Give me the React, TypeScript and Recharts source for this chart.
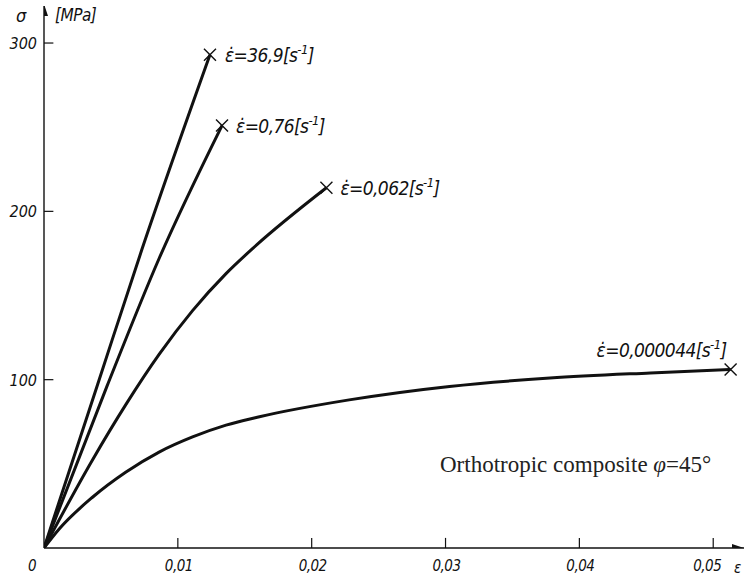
import { ComposedChart, Line, Scatter, XAxis, YAxis, ReferenceLine } from "recharts";

// stress-strain curves at four strain rates (strain [-], stress [MPa])
const strainRate369 = [0, 0.004, 0.0073, 0.0124];
const stressRate369 = [0, 97, 177, 293];

const strainRate076 = [0, 0.0047, 0.0086, 0.0133];
const stressRate076 = [0, 96, 172, 251];

const strainRate0062 = [0, 0.0036, 0.0061, 0.0086, 0.0111, 0.0136, 0.0156, 0.0211];
const stressRate0062 = [0, 52, 85, 115, 141, 163, 178, 214];

const strainRateSlow = [0, 0.0011, 0.0036, 0.0061, 0.0086, 0.0111, 0.0136, 0.0161, 0.0228, 0.0303, 0.0378, 0.0453, 0.0513];
const stressRateSlow = [0, 11, 30, 45, 57, 66, 73, 78, 88, 96, 101, 104, 106];

const rateLabels = ["36,9", "0,76", "0,062", "0,000044"];

const xTicks = [0, 0.01, 0.02, 0.03, 0.04, 0.05];
const yTicks = [100, 200, 300];

const X_MAX = 0.0523;
const Y_MAX = 322;

const INK = "#111";
const HAND = "'DejaVu Sans Condensed', 'DejaVu Sans', sans-serif";

const curves = [
  [strainRate369, stressRate369],
  [strainRate076, stressRate076],
  [strainRate0062, stressRate0062],
  [strainRateSlow, stressRateSlow],
].map(([e, s]) => e.map((v, i) => ({ e: v, s: s[i] })));

// fracture points = last point of each curve
const breakPoints = curves.map((c, i) => ({ ...c[c.length - 1], i }));

const labelPlacement = [
  { dx: 15, dy: 7, anchor: "start" },
  { dx: 14, dy: 7, anchor: "start" },
  { dx: 14, dy: 7, anchor: "start" },
  { dx: -4, dy: -13, anchor: "end" },
];

function BreakMark(props: any) {
  const { cx, cy, payload } = props;
  const p = labelPlacement[payload.i];
  const r = 6;
  return (
    <g>
      <path
        d={`M${cx - r},${cy - r}L${cx + r},${cy + r}M${cx - r},${cy + r}L${cx + r},${cy - r}`}
        stroke={INK}
        strokeWidth={1.4}
      />
      <text
        x={cx + p.dx}
        y={cy + p.dy}
        textAnchor={p.anchor}
        fontFamily={HAND}
        fontStyle="italic"
        fontSize={19}
        letterSpacing={-0.6}
        fill={INK}
      >
        {"\u03B5\u0307=" + rateLabels[payload.i] + "[s"}
        <tspan dy={-8} fontSize={13}>-1</tspan>
        <tspan dy={8}>]</tspan>
      </text>
    </g>
  );
}

function ArrowUp(props: any) {
  const { cx, cy } = props;
  return <path d={`M${cx},${cy - 2}L${cx - 4},${cy + 10}L${cx + 4},${cy + 10}Z`} fill={INK} />;
}

function ArrowRight(props: any) {
  const { cx, cy } = props;
  return <path d={`M${cx},${cy}L${cx - 12},${cy - 4}L${cx - 12},${cy + 4}Z`} fill={INK} />;
}

function StrainTick(props: any) {
  const { x, y, payload } = props;
  const v = payload.value;
  const text = v === 0 ? "0" : v.toFixed(2).replace(".", ",");
  return (
    <text
      x={v === 0 ? x - 12 : v === 0.05 ? x - 6 : x + 1}
      y={y + 15}
      textAnchor="middle"
      fontFamily={HAND}
      fontStyle="italic"
      fontSize={15}
      letterSpacing={-0.5}
      fill={INK}
    >
      {text}
    </text>
  );
}

function StressTick(props: any) {
  const { x, y, payload } = props;
  return (
    <text x={x + 1} y={y + 6} textAnchor="end" fontFamily={HAND} fontStyle="italic" fontSize={16} fill={INK}>
      {payload.value}
    </text>
  );
}

export default function App() {
  return (
    <div style={{ position: "absolute", left: 0, top: 0, width: 744, height: 579, background: "#fff" }}>
      <ComposedChart width={744} height={579} margin={{ top: 6, right: 0, bottom: 0, left: 0 }}>
        <XAxis
          dataKey="e"
          type="number"
          domain={[0, X_MAX]}
          ticks={xTicks}
          tick={<StrainTick />}
          tickLine={false}
          axisLine={{ stroke: INK, strokeWidth: 1.4 }}
          height={31}
          allowDataOverflow
        />
        <YAxis
          dataKey="s"
          type="number"
          domain={[0, Y_MAX]}
          ticks={yTicks}
          tick={<StressTick />}
          tickLine={false}
          axisLine={{ stroke: INK, strokeWidth: 1.4 }}
          width={44}
          allowDataOverflow
        />
        {xTicks.slice(1).map((t) => (
          <ReferenceLine
            key={`xt-${t}`}
            segment={[{ x: t, y: 0 }, { x: t, y: 6 }]}
            stroke={INK}
            strokeWidth={1.2}
          />
        ))}
        {yTicks.map((t) => (
          <ReferenceLine
            key={`yt-${t}`}
            segment={[{ x: 0, y: t }, { x: 0.0007, y: t }]}
            stroke={INK}
            strokeWidth={1.2}
          />
        ))}
        {curves.map((c, i) => (
          <Line
            key={`curve-${i}`}
            data={c}
            dataKey="s"
            type="monotone"
            stroke={INK}
            strokeWidth={3}
            dot={false}
            isAnimationActive={false}
          />
        ))}
        <Scatter data={breakPoints} dataKey="s" shape={<BreakMark />} isAnimationActive={false} />
        <Scatter data={[{ e: 0, s: Y_MAX }]} dataKey="s" shape={<ArrowUp />} isAnimationActive={false} />
        <Scatter data={[{ e: X_MAX, s: 0 }]} dataKey="s" shape={<ArrowRight />} isAnimationActive={false} />
      </ComposedChart>
      <div style={{ position: "absolute", left: 16, top: 5, fontFamily: HAND, fontStyle: "italic", fontSize: 18, color: INK }}>
        {"\u03C3"}
      </div>
      <div style={{ position: "absolute", left: 55, top: 5, fontFamily: HAND, fontStyle: "italic", fontSize: 17, letterSpacing: -0.5, color: INK }}>
        [MPa]
      </div>
      <div style={{ position: "absolute", left: 734, top: 559, fontFamily: HAND, fontStyle: "italic", fontSize: 15, color: INK }}>
        {"\u03B5"}
      </div>
      <div
        style={{
          position: "absolute",
          left: 440,
          top: 452,
          fontFamily: "'Liberation Serif', serif",
          fontSize: 23,
          color: "#222",
          whiteSpace: "nowrap",
        }}
      >
        Orthotropic composite <i>{"\u03C6"}</i>=45°
      </div>
    </div>
  );
}
